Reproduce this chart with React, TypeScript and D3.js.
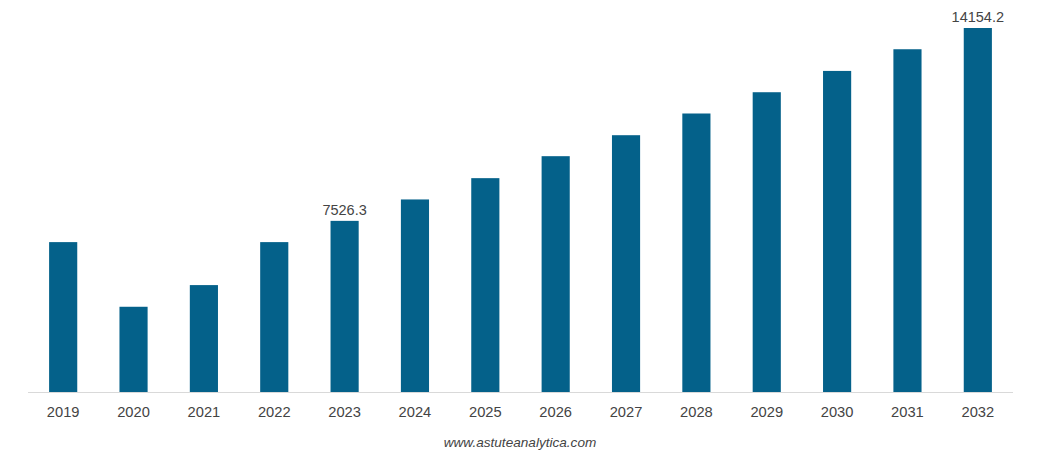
import React from "react";
import * as d3 from "d3";

const years = ["2019", "2020", "2021", "2022", "2023", "2024", "2025", "2026", "2027", "2028", "2029", "2030", "2031", "2032"];
const values = [6796, 4574, 5319, 6796, 7526.3, 8262, 8994, 9749, 10470, 11216, 11947, 12679, 13424, 14154.2];
// only these two bars carry a value label in the original
const labelled = ["2023", "2032"];
// the value axis does not start at zero
const axisMin = 1645;

const width = 1037, height = 456;
const margin = { top: 28, right: 24, bottom: 64, left: 28 };

export default function App() {
  const x = d3.scaleBand()
    .domain(years)
    .range([margin.left, width - margin.right])
    .paddingInner(0.6)
    .paddingOuter(0.3);

  const y = d3.scaleLinear()
    .domain([axisMin, d3.max(values) as number])
    .range([height - margin.bottom, margin.top]);

  const data = years.map((year, i) => ({ year, value: values[i] }));
  const baseY = height - margin.bottom;

  return (
    <svg
      width={width}
      height={height}
      style={{ position: "absolute", left: 0, top: 0, background: "#fff" }}
      fontFamily="'Liberation Sans', Arial, sans-serif"
    >
      <line x1={margin.left} x2={width - margin.right} y1={baseY + 0.5} y2={baseY + 0.5} stroke="#d9d9d9" />

      {data.map(d => (
        <rect
          key={d.year}
          x={x(d.year)}
          y={y(d.value)}
          width={x.bandwidth()}
          height={baseY - y(d.value)}
          fill="#04618a"
        />
      ))}

      {data.filter(d => labelled.includes(d.year)).map(d => (
        <text
          key={d.year}
          x={(x(d.year) as number) + x.bandwidth() / 2}
          y={y(d.value) - 6}
          textAnchor="middle"
          fontSize={14.5}
          fill="#444"
        >
          {d.value.toFixed(1)}
        </text>
      ))}

      {years.map(year => (
        <text
          key={year}
          x={(x(year) as number) + x.bandwidth() / 2}
          y={baseY + 25}
          textAnchor="middle"
          fontSize={14.7}
          fill="#444"
        >
          {year}
        </text>
      ))}

      <text x={520} y={447} textAnchor="middle" fontSize={13.6} fontStyle="italic" fill="#444">
        www.astuteanalytica.com
      </text>
    </svg>
  );
}
